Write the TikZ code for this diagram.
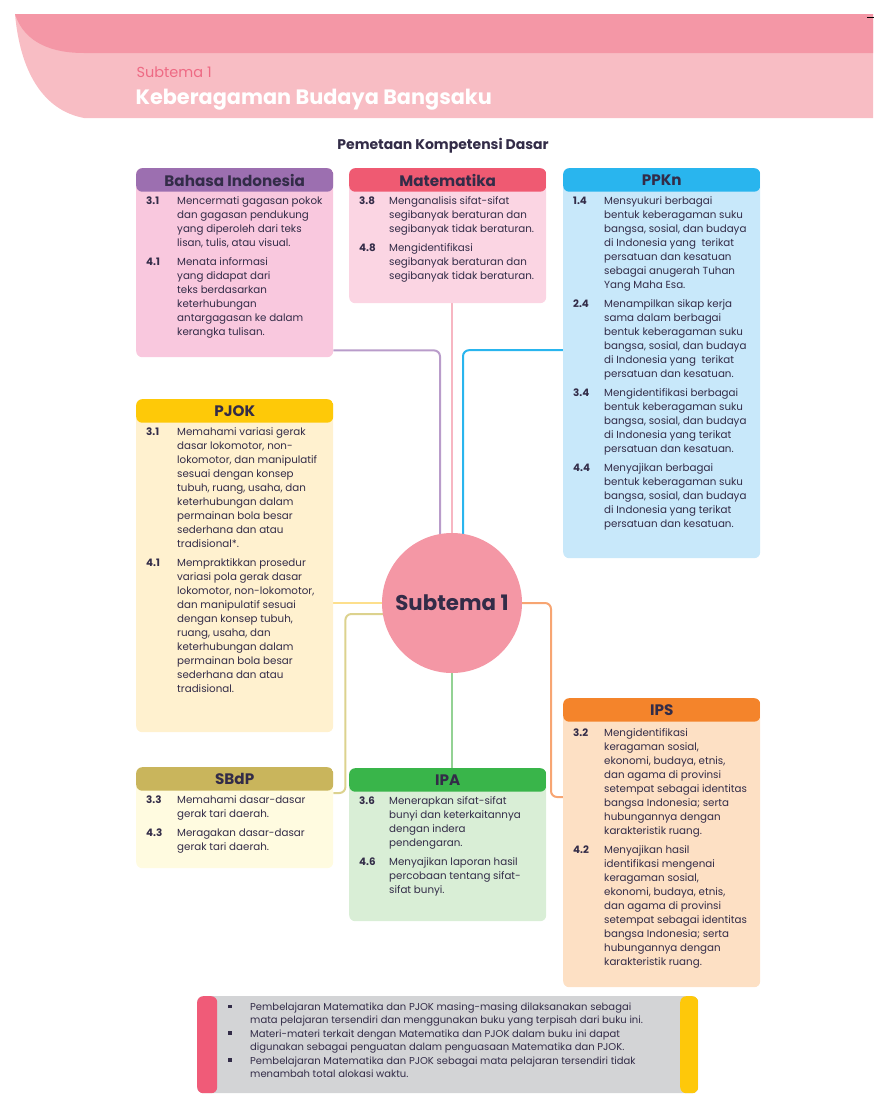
\documentclass[tikz,border=0pt]{standalone}
\usepackage{fontspec}
\setmainfont{Poppins}
\usetikzlibrary{positioning,backgrounds,calc}

\definecolor{ink}{HTML}{332C48}
\definecolor{bandd}{HTML}{F497A6}
\definecolor{bandl}{HTML}{F8BDC4}
\definecolor{subred}{HTML}{EE6A84}
\definecolor{bihdr}{HTML}{9C6FB0}
\definecolor{bibody}{HTML}{F9C8DE}
\definecolor{bilink}{HTML}{B99CCA}
\definecolor{mthdr}{HTML}{EF5A72}
\definecolor{mtbody}{HTML}{FBD5E3}
\definecolor{mtlink}{HTML}{F7B6C2}
\definecolor{pphdr}{HTML}{29B5EE}
\definecolor{ppbody}{HTML}{C8E8FA}
\definecolor{pjhdr}{HTML}{FEC908}
\definecolor{pjbody}{HTML}{FFF1CF}
\definecolor{pjlink}{HTML}{FDDF8C}
\definecolor{sbhdr}{HTML}{C9B55C}
\definecolor{sbbody}{HTML}{FFFBE0}
\definecolor{sblink}{HTML}{DCD28E}
\definecolor{ipahdr}{HTML}{39B54A}
\definecolor{ipabody}{HTML}{D9EED6}
\definecolor{ipalink}{HTML}{93D294}
\definecolor{ipshdr}{HTML}{F4842B}
\definecolor{ipsbody}{HTML}{FDE0C4}
\definecolor{ipslink}{HTML}{F7A572}
\definecolor{circfill}{HTML}{F497A5}
\definecolor{notegray}{HTML}{D3D4D6}
\definecolor{notered}{HTML}{F05B78}
\definecolor{noteyel}{HTML}{FEC80A}

\tikzset{
  subj/.style 2 args={anchor=north west, inner sep=0pt, minimum width=197pt,
    rounded corners=6pt, fill=#2,
    path picture={\fill[#1] ([yshift=1pt]path picture bounding box.north west)
      rectangle ([yshift=-23.5pt]path picture bounding box.north east);}},
  ttl/.style={font=\fontsize{15.2}{17}\selectfont\bfseries, text=ink, inner sep=0pt},
  items/.style={anchor=north west, inner sep=0pt, text=ink,
    font=\fontsize{10.3}{14}\selectfont},
  link/.style={line width=2pt, rounded corners=6pt},
}

\begin{document}
\begin{tikzpicture}[x=1pt,y=-1pt]
\useasboundingbox (0,0) rectangle (876,1111);

% page header
\fill[bandl] (15,14) -- (873,14) -- (873,118) -- (84,118)
  .. controls (42,110) and (20,70) .. (15,14) -- cycle;
\fill[bandd] (15,14) -- (873,14) -- (873,53) -- (84,53)
  .. controls (42,53) and (22,36) .. (15,14) -- cycle;
\draw[line width=1pt] (867,17) -- (874,17);
\node[anchor=west, text=subred, font=\fontsize{14.5}{16}\selectfont] (subnum) at (133,72) {Subtema 1};
\node[anchor=west, text=white, font=\fontsize{20.8}{24}\selectfont\bfseries] (subname) at (132,100) {Keberagaman Budaya Bangsaku};

\node[font=\fontsize{14}{16}\selectfont\bfseries, text=ink] (maptitle) at (443,146) {Pemetaan Kompetensi Dasar};

% centre
\node[circle, fill=circfill, minimum size=140pt, inner sep=0pt, text=ink,
  font=\fontsize{21.3}{25}\selectfont\bfseries] (circ) at (452,603) {Subtema 1};

% Bahasa Indonesia
\node[subj={bihdr}{bibody}, minimum height=189pt] (bind) at (136,168) {};
\node[ttl] (bindt) at ([yshift=-12pt]bind.north) {Bahasa Indonesia};
\node[items] (bindi) at ([xshift=10pt,yshift=-26.2pt]bind.north west) {%
\begin{tabular}{@{}p{31pt}@{}l@{}}
\textbf{3.1} & Mencermati gagasan pokok\\
    & dan gagasan pendukung\\
    & yang diperoleh dari teks\\
    & lisan, tulis, atau visual.\\[5pt]
\textbf{4.1} & Menata informasi\\
    & yang didapat dari\\
    & teks berdasarkan\\
    & keterhubungan\\
    & antargagasan ke dalam\\
    & kerangka tulisan.
\end{tabular}};

% Matematika
\node[subj={mthdr}{mtbody}, minimum height=135pt] (mat) at (349,168) {};
\node[ttl] (matt) at ([yshift=-12pt]mat.north) {Matematika};
\node[items] (mati) at ([xshift=10pt,yshift=-26.2pt]mat.north west) {%
\begin{tabular}{@{}p{30pt}@{}l@{}}
\textbf{3.8} & Menganalisis sifat-sifat\\
    & segibanyak beraturan dan\\
    & segibanyak tidak beraturan.\\[5pt]
\textbf{4.8} & Mengidentifikasi\\
    & segibanyak beraturan dan\\
    & segibanyak tidak beraturan.
\end{tabular}};

% PPKn
\node[subj={pphdr}{ppbody}, minimum height=390pt] (ppkn) at (563,168) {};
\node[ttl] (ppknt) at ([yshift=-12pt]ppkn.north) {PPKn};
\node[items] (ppkni) at ([xshift=10pt,yshift=-26.2pt]ppkn.north west) {%
\begin{tabular}{@{}p{31pt}@{}l@{}}
\textbf{1.4} & Mensyukuri berbagai\\
    & bentuk keberagaman suku\\
    & bangsa, sosial, dan budaya\\
    & di Indonesia yang \ terikat\\
    & persatuan dan kesatuan\\
    & sebagai anugerah Tuhan\\
    & Yang Maha Esa.\\[5pt]
\textbf{2.4} & Menampilkan sikap kerja\\
    & sama dalam berbagai\\
    & bentuk keberagaman suku\\
    & bangsa, sosial, dan budaya\\
    & di Indonesia yang \ terikat\\
    & persatuan dan kesatuan.\\[5pt]
\textbf{3.4} & Mengidentifikasi berbagai\\
    & bentuk keberagaman suku\\
    & bangsa, sosial, dan budaya\\
    & di Indonesia yang terikat\\
    & persatuan dan kesatuan.\\[5pt]
\textbf{4.4} & Menyajikan berbagai\\
    & bentuk keberagaman suku\\
    & bangsa, sosial, dan budaya\\
    & di Indonesia yang terikat\\
    & persatuan dan kesatuan.
\end{tabular}};

% PJOK
\node[subj={pjhdr}{pjbody}, minimum height=333pt] (pjok) at (136,399) {};
\node[ttl] (pjokt) at ([yshift=-12pt]pjok.north) {PJOK};
\node[items] (pjoki) at ([xshift=10pt,yshift=-26.2pt]pjok.north west) {%
\begin{tabular}{@{}p{31pt}@{}l@{}}
\textbf{3.1} & Memahami variasi gerak\\
    & dasar lokomotor, non-\\
    & lokomotor, dan manipulatif\\
    & sesuai dengan konsep\\
    & tubuh, ruang, usaha, dan\\
    & keterhubungan dalam\\
    & permainan bola besar\\
    & sederhana dan atau\\
    & tradisional*.\\[5pt]
\textbf{4.1} & Mempraktikkan prosedur\\
    & variasi pola gerak dasar\\
    & lokomotor, non-lokomotor,\\
    & dan manipulatif sesuai\\
    & dengan konsep tubuh,\\
    & ruang, usaha, dan\\
    & keterhubungan dalam\\
    & permainan bola besar\\
    & sederhana dan atau\\
    & tradisional.
\end{tabular}};

% SBdP
\node[subj={sbhdr}{sbbody}, minimum height=101pt] (sbdp) at (136,767) {};
\node[ttl] (sbdpt) at ([yshift=-12pt]sbdp.north) {SBdP};
\node[items] (sbdpi) at ([xshift=10pt,yshift=-26.2pt]sbdp.north west) {%
\begin{tabular}{@{}p{31pt}@{}l@{}}
\textbf{3.3} & Memahami dasar-dasar\\
    & gerak tari daerah.\\[5pt]
\textbf{4.3} & Meragakan dasar-dasar\\
    & gerak tari daerah.
\end{tabular}};

% IPA
\node[subj={ipahdr}{ipabody}, minimum height=153pt] (ipa) at (349,768) {};
\node[ttl] (ipat) at ([yshift=-12pt]ipa.north) {IPA};
\node[items] (ipai) at ([xshift=10pt,yshift=-26.2pt]ipa.north west) {%
\begin{tabular}{@{}p{30pt}@{}l@{}}
\textbf{3.6} & Menerapkan sifat-sifat\\
    & bunyi dan keterkaitannya\\
    & dengan indera\\
    & pendengaran.\\[5pt]
\textbf{4.6} & Menyajikan laporan hasil\\
    & percobaan tentang sifat-\\
    & sifat bunyi.
\end{tabular}};

% IPS
\node[subj={ipshdr}{ipsbody}, minimum height=289pt] (ips) at (563,698) {};
\node[ttl] (ipst) at ([yshift=-12pt]ips.north) {IPS};
\node[items] (ipsi) at ([xshift=10pt,yshift=-28pt]ips.north west) {%
\begin{tabular}{@{}p{31pt}@{}l@{}}
\textbf{3.2} & Mengidentifikasi\\
    & keragaman sosial,\\
    & ekonomi, budaya, etnis,\\
    & dan agama di provinsi\\
    & setempat sebagai identitas\\
    & bangsa Indonesia; serta\\
    & hubungannya dengan\\
    & karakteristik ruang.\\[5pt]
\textbf{4.2} & Menyajikan hasil\\
    & identifikasi mengenai\\
    & keragaman sosial,\\
    & ekonomi, budaya, etnis,\\
    & dan agama di provinsi\\
    & setempat sebagai identitas\\
    & bangsa Indonesia; serta\\
    & hubungannya dengan\\
    & karakteristik ruang.
\end{tabular}};

% connectors
\begin{scope}[on background layer]
\draw[link, bilink] ([yshift=7pt]bind.south east) -| ([xshift=-12pt]circ.center);
\draw[link, mtlink] (circ.center) -- (circ.center |- mat.south);
\draw[link, pphdr] ([yshift=13pt]ppkn.west) -| ([xshift=11pt]circ.center);
\draw[link, pjlink] (circ.center) -- (circ.center -| pjok.east);
\draw[link, sblink] ([yshift=-11pt]circ.center) -| ([xshift=12pt,yshift=-26pt]sbdp.north east)
  -- ([yshift=-26pt]sbdp.north east);
\draw[link, ipalink] (circ.center) -- (circ.center |- ipa.north);
\draw[link, ipslink] (circ.center) -| ([xshift=-12pt,yshift=-99pt]ips.north west)
  -- ([yshift=-99pt]ips.north west);
\end{scope}

% note
\node[anchor=north west, inner sep=0pt, minimum width=501pt, minimum height=97pt,
  rounded corners=6pt, fill=notegray,
  path picture={\fill[notered] (path picture bounding box.north west) rectangle
    ([xshift=20pt]path picture bounding box.south west);
    \fill[noteyel] ([xshift=-18pt]path picture bounding box.north east) rectangle
    (path picture bounding box.south east);}] (note) at (197,996) {};
\node[items, font=\fontsize{10}{13.4}\selectfont] (notei) at ([xshift=31pt,yshift=-5pt]note.north west) {%
\begin{tabular}{@{}p{22pt}@{}l@{}}
\raisebox{2.5pt}{\rule{3.5pt}{3.5pt}} & Pembelajaran Matematika dan PJOK masing-masing dilaksanakan sebagai\\
    & mata pelajaran tersendiri dan menggunakan buku yang terpisah dari buku ini.\\
\raisebox{2.5pt}{\rule{3.5pt}{3.5pt}} & Materi-materi terkait dengan Matematika dan PJOK dalam buku ini dapat\\
    & digunakan sebagai penguatan dalam penguasaan Matematika dan PJOK.\\
\raisebox{2.5pt}{\rule{3.5pt}{3.5pt}} & Pembelajaran Matematika dan PJOK sebagai mata pelajaran tersendiri tidak\\
    & menambah total alokasi waktu.
\end{tabular}};
\end{tikzpicture}
\end{document}
